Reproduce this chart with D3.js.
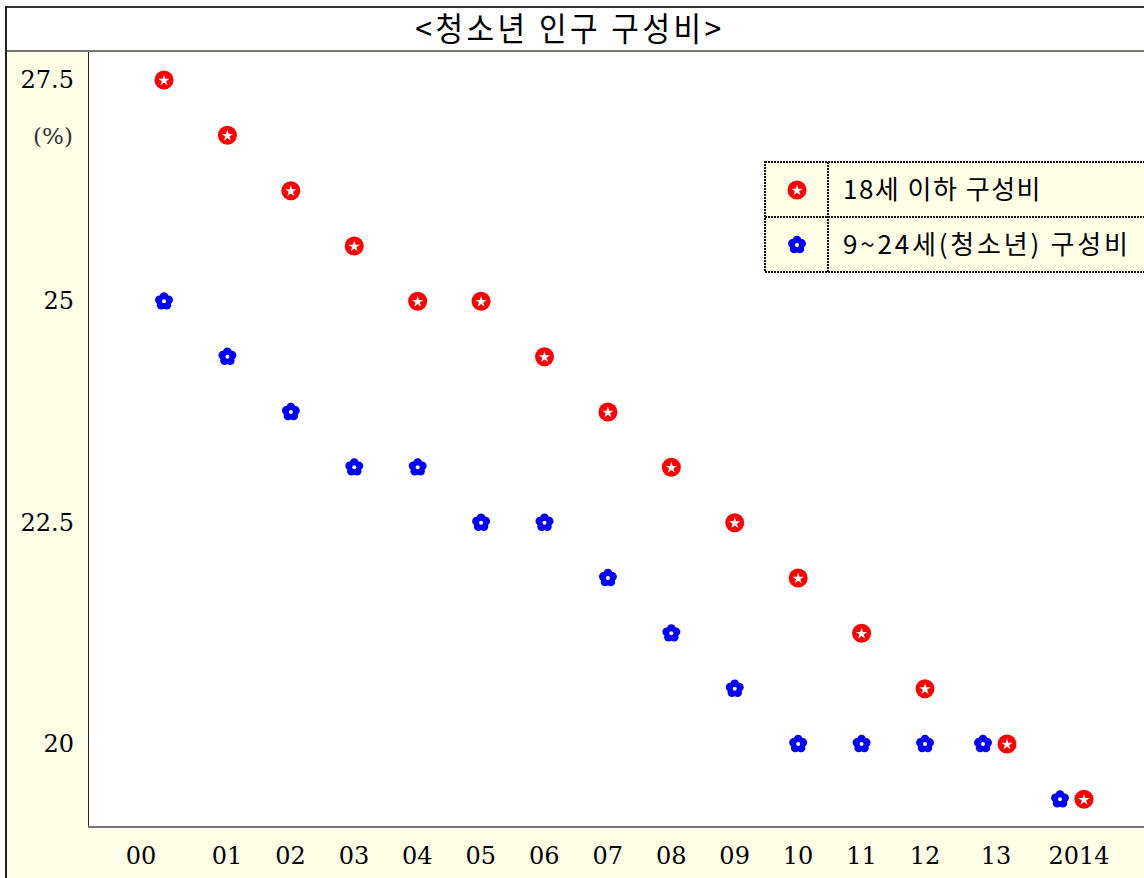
<html>
<head>
<meta charset="utf-8">
<script src="https://d3js.org/d3.v7.min.js"></script>
<style>
  body { margin: 0; background: white; }
  text { font-family: "DejaVu Serif", "Liberation Serif", serif; }
  .kr { font-family: "Noto Sans CJK KR", sans-serif; }
</style>
</head>
<body>
<svg id="chart" width="1144" height="878"></svg>
<script>
// data
var years = ["00","01","02","03","04","05","06","07","08","09","10","11","12","13","2014"];
var under18 = [27.5,26.875,26.25,25.625,25,25,24.375,23.75,23.125,22.5,21.875,21.25,20.625,20,19.375];
var youth = [25,24.375,23.75,23.125,23.125,22.5,22.5,21.875,21.25,20.625,20,20,20,20,19.375];
var yTicks = [27.5,25,22.5,20];
var legendLabels = ["18세 이하 구성비","9~24세(청소년) 구성비"];

var svg = d3.select('#chart');
var W = 1144, H = 878;

// background frame
svg.append('rect').attr('x',6).attr('y',52).attr('width',W-6).attr('height',H-52).attr('fill','#fffee6');
svg.append('rect').attr('x',88).attr('y',53).attr('width',W-88).attr('height',774).attr('fill','white');
svg.append('line').attr('x1',88.5).attr('x2',88.5).attr('y1',52).attr('y2',828).attr('stroke','#222').attr('stroke-width',1);
svg.append('line').attr('x1',88).attr('x2',W).attr('y1',827).attr('y2',827).attr('stroke','#777').attr('stroke-width',2);
svg.append('line').attr('x1',6).attr('x2',W).attr('y1',7).attr('y2',7).attr('stroke','#333').attr('stroke-width',2);
svg.append('line').attr('x1',6).attr('x2',W).attr('y1',51).attr('y2',51).attr('stroke','#777').attr('stroke-width',2);
svg.append('line').attr('x1',6).attr('x2',6).attr('y1',6).attr('y2',H).attr('stroke','#222').attr('stroke-width',2);

svg.append('text').attr('class','kr').attr('x',570).attr('y',41)
  .attr('text-anchor','middle').attr('font-size',30).attr('letter-spacing',3.5)
  .attr('transform','translate(570,41) scale(1,1.08) translate(-570,-41)')
  .text('<청소년 인구 구성비>');

// scales
var y = d3.scaleLinear().domain([27.5,20]).range([80,744]);
var x = d3.scaleLinear().domain([0,12,13,14]).range([164,925,995,1072]);
var xLab = d3.scaleLinear().domain([0,1,12,13,14]).range([141,227,925,996,1079]);

// y tick labels
svg.selectAll('.ytick').data(yTicks).enter().append('text')
  .attr('x',74).attr('y',d=>y(d)+8).attr('text-anchor','end')
  .attr('font-size',24).text(d=>d);
svg.append('text').attr('x',53).attr('y',144).attr('text-anchor','middle')
  .attr('font-size',23).attr('fill','#333').text('(%)');

// x tick labels
svg.selectAll('.xtick').data(years).enter().append('text')
  .attr('x',(d,i)=>xLab(i)).attr('y',864).attr('text-anchor','middle')
  .attr('font-size',24).text(d=>d);

function dodge(i, s){ return under18[i] === youth[i] ? s*12 : 0; }

function starMark(g){
  g.append('circle').attr('r',9.5).attr('fill','#f00');
  g.append('path').attr('d',d3.symbol().type(d3.symbolStar).size(40)).attr('fill','white').attr('transform','translate(0,0.5)');
}
function flowerMark(g){
  d3.range(5).forEach(function(k){
    var a = -Math.PI/2 + k*2*Math.PI/5;
    g.append('circle').attr('cx',4.8*Math.cos(a)).attr('cy',4.8*Math.sin(a)).attr('r',4.4).attr('fill','#00f');
  });
  g.append('circle').attr('r',5).attr('fill','#00f');
  g.append('circle').attr('r',2).attr('fill','white');
}

svg.selectAll('.red').data(under18).enter().append('g')
  .attr('transform',(d,i)=>'translate('+(x(i)+dodge(i,1))+','+y(d)+')')
  .each(function(){ starMark(d3.select(this)); });
svg.selectAll('.blue').data(youth).enter().append('g')
  .attr('transform',(d,i)=>'translate('+(x(i)+dodge(i,-1))+','+y(d)+')')
  .each(function(){ flowerMark(d3.select(this)); });

// legend
var lg = svg.append('g');
lg.append('rect').attr('x',765).attr('y',162).attr('width',390).attr('height',110)
  .attr('fill','#fffee6').attr('stroke','#111').attr('stroke-width',2).attr('stroke-dasharray','2,1');
lg.append('line').attr('x1',765).attr('x2',W).attr('y1',217).attr('y2',217)
  .attr('stroke','#111').attr('stroke-width',2).attr('stroke-dasharray','2,1');
lg.append('line').attr('x1',828).attr('x2',828).attr('y1',162).attr('y2',272)
  .attr('stroke','#111').attr('stroke-width',2).attr('stroke-dasharray','2,1');
legendLabels.forEach(function(t,i){
  var cy = 190 + i*55;
  var m = lg.append('g').attr('transform','translate(797,'+cy+')');
  if(i===0) starMark(m); else flowerMark(m);
  lg.append('text').attr('class','kr').attr('x',843).attr('y',cy+9).attr('font-size',26)
    .attr('letter-spacing',i===0?1.5:2.8).text(t);
});
</script>
</body>
</html>
